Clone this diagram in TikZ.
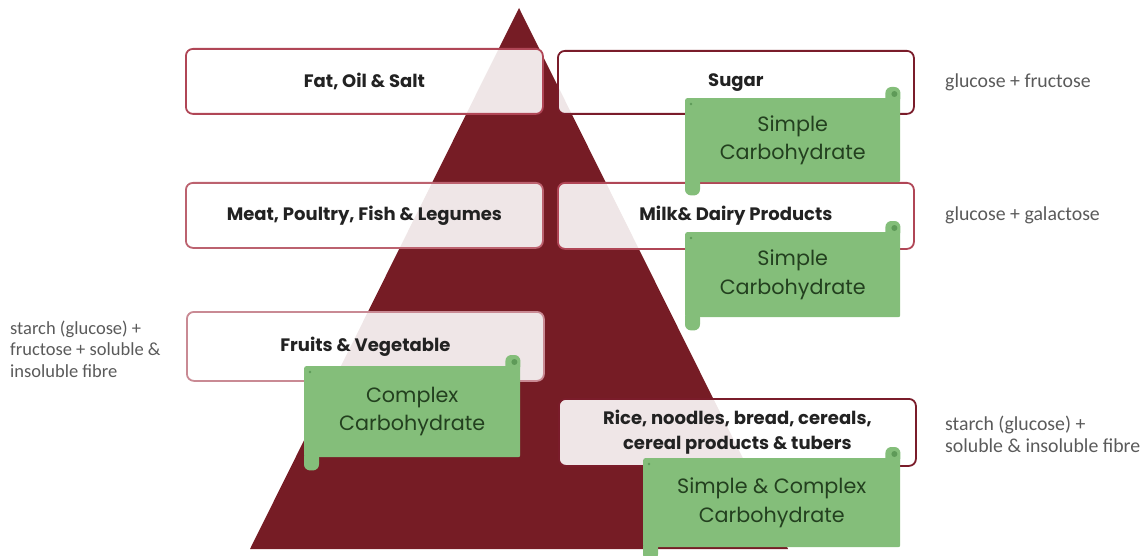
\documentclass[tikz,border=0pt]{standalone}
\usepackage{fontspec}
\setmainfont{Poppins}
\newfontfamily\sidefont{Carlito}
\usetikzlibrary{calc}
\definecolor{trired}{HTML}{761C25}
\definecolor{dkborder}{HTML}{7A1C2A}
\definecolor{mdborder}{HTML}{B04656}
\definecolor{ltborder}{HTML}{C98A94}
\definecolor{scrollgreen}{HTML}{84BE7A}
\definecolor{scrolldot}{HTML}{5E9A58}
\definecolor{scrolltext}{HTML}{23401F}
\definecolor{labeltext}{HTML}{222222}
\definecolor{sidetext}{HTML}{5A5A5A}
\tikzset{
  redbox/.style={draw, rounded corners=7pt, line width=1.8pt, fill=white, fill opacity=0.89, text opacity=1,
    anchor=north west, inner sep=0pt, align=center, text=labeltext,
    font=\fontsize{18}{25}\selectfont\bfseries},
  scrollbody/.style={fill=scrollgreen, rounded corners=2pt, anchor=north west, inner sep=0pt,
    align=center, text=scrolltext, font=\fontsize{20.7}{28.5}\selectfont},
  scrolltab/.style={fill=scrollgreen, rounded corners=6pt},
  sidenote/.style={anchor=west, align=left, inner sep=0pt, text=sidetext,
    font=\sidefont\fontsize{19.8}{22}\selectfont},
}
\newcommand{\scrolltabs}[1]{%
  \fill[scrolltab] ([xshift=-15pt,yshift=-6pt]#1.north east) rectangle ([yshift=11pt]#1.north east);
  \fill[scrolltab] ([yshift=6pt]#1.south west) rectangle ([xshift=15pt,yshift=-13pt]#1.south west);
  \fill[scrolldot] ([xshift=-6pt,yshift=4pt]#1.north east) circle (3pt);
  \fill[scrolldot] ([xshift=6pt,yshift=-6pt]#1.north west) circle (1.3pt);
}
\begin{document}
\begin{tikzpicture}[x=1pt,y=-1pt]
\useasboundingbox (0,0) rectangle (1145,556);
% pyramid
\coordinate (apex) at (519,8);
\coordinate (bl) at (250,549);
\coordinate (br) at (788,549);
\fill[trired] (apex) -- (br) -- (bl) -- cycle;
% food group boxes
\node[redbox, draw=mdborder, minimum width=357pt, minimum height=65pt] (fat) at (185,48) {Fat, Oil \& Salt};
\node[redbox, draw=dkborder, minimum width=356pt, minimum height=63pt] (sugar) at (557,50) {Sugar};
\node[redbox, draw=mdborder!85, minimum width=357pt, minimum height=65pt] (meat) at (185,182) {Meat, Poultry, Fish \& Legumes};
\node[redbox, draw=mdborder, minimum width=356pt, minimum height=66pt] (milk) at (557,182) {Milk\& Dairy Products};
\node[redbox, draw=ltborder, minimum width=357pt, minimum height=69pt] (fruit) at (186,311) {Fruits \& Vegetable};
\node[redbox, draw=dkborder, minimum width=357pt, minimum height=67pt] (rice) at (558,398) {Rice, noodles, bread, cereals,\\cereal products \& tubers};
% carbohydrate scrolls
\node[scrollbody, minimum width=215pt, minimum height=84pt] (c1) at (685,98) {Simple\\Carbohydrate};
\scrolltabs{c1}
\node[scrollbody, minimum width=215pt, minimum height=85pt] (c2) at (685,232) {Simple\\Carbohydrate};
\scrolltabs{c2}
\node[scrollbody, minimum width=216pt, minimum height=91pt] (c3) at (304,366) {Complex\\Carbohydrate};
\scrolltabs{c3}
\node[scrollbody, minimum width=257pt, minimum height=89pt] (c4) at (643,458) {Simple \& Complex\\Carbohydrate};
\scrolltabs{c4}
% side notes
\node[sidenote] (n1) at (945,82) {glucose + fructose};
\node[sidenote] (n2) at (945,215) {glucose + galactose};
\node[sidenote] (n3) at (945,434) {starch (glucose) +\\soluble \& insoluble fibre};
\node[sidenote, font=\sidefont\fontsize{18.5}{21.5}\selectfont] (n4) at (10,349) {starch (glucose) +\\fructose + soluble \&\\insoluble fibre};
\end{tikzpicture}
\end{document}
